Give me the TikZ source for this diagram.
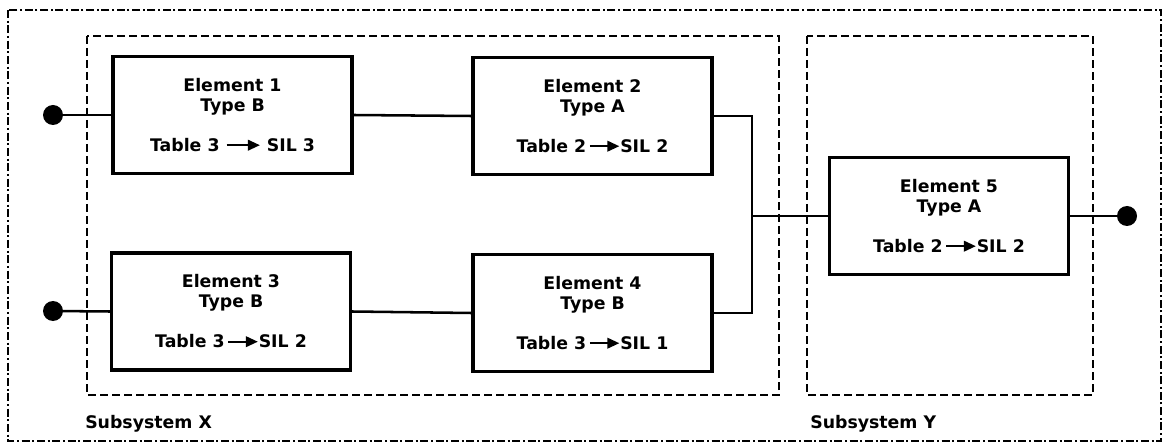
\documentclass[tikz,border=0pt]{standalone}
\usepackage{fontspec}
\setmainfont{DejaVu Sans}
\usetikzlibrary{arrows.meta}

% inline arrow used in the "Table n -> SIL m" lines
\newcommand{\silarrow}[1]{\tikz[baseline=0pt,x=1pt,y=1pt]\draw[line width=1.4pt,-{Triangle[length=9pt,width=8pt]}] (0,4.7) -- (#1,4.7);}

\tikzset{
  element/.style={draw, line width=2.6pt, minimum width=179pt, minimum height=87.5pt,
    align=center, inner sep=0pt, font=\fontsize{13}{15}\selectfont\bfseries},
  wire/.style={line width=1.9pt},
  terminal/.style={circle, fill=black, inner sep=0pt, minimum size=15pt},
  subsys/.style={line width=1.8pt, dash pattern=on 6pt off 3pt},
  sysframe/.style={line width=1.8pt, dash pattern=on 6pt off 2pt on 1.5pt off 2pt},
  syslabel/.style={anchor=base west, inner sep=0pt, font=\fontsize{13}{15}\selectfont\bfseries}
}

\begin{document}
\begin{tikzpicture}[x=0.75pt, y=-0.75pt]
  \useasboundingbox (0,0) rectangle (1167,445);

  % system boundary and the two subsystems
  \draw[sysframe] (8,10) rectangle (1161,441);
  \draw[subsys] (87,36) rectangle (779,395);
  \draw[subsys] (807,36) rectangle (1093,395);

  \node[syslabel] (labx) at (85,428) {Subsystem X};
  \node[syslabel] (laby) at (810,428) {Subsystem Y};

  % elements
  \node[element] (e1) at (232.5,115) {Element 1\\Type B\\[15pt]Table 3 \silarrow{25} SIL 3};
  \node[element] (e2) at (592.5,116) {Element 2\\Type A\\[15pt]Table 2\,\silarrow{22}SIL 2};
  \node[element] (e3) at (231,311.5) {Element 3\\Type B\\[15pt]Table 3\,\silarrow{22}SIL 2};
  \node[element] (e4) at (592.5,313) {Element 4\\Type B\\[15pt]Table 3\,\silarrow{22}SIL 1};
  \node[element] (e5) at (949,216) {Element 5\\Type A\\[15pt]Table 2\,\silarrow{22}SIL 2};

  % terminals
  \node[terminal] (in1) at (53,115) {};
  \node[terminal] (in2) at (53,311) {};
  \node[terminal] (out) at (1127,216) {};

  % junction of the two channels
  \coordinate (jtop) at (752,116);
  \coordinate (jbot) at (752,313);
  \coordinate (jmid) at (752,216);

  % connections
  \draw[wire] (in1.center) -- (e1.west);
  \draw[wire] (in2.center) -- (e3.west);
  \draw[wire] (e1.east) -- (e2.west);
  \draw[wire] (e3.east) -- (e4.west);
  \draw[wire] (e2.east) -- (jtop) -- (jbot) -- (e4.east);
  \draw[wire] (jmid) -- (e5.west);
  \draw[wire] (e5.east) -- (out.center);
\end{tikzpicture}
\end{document}
